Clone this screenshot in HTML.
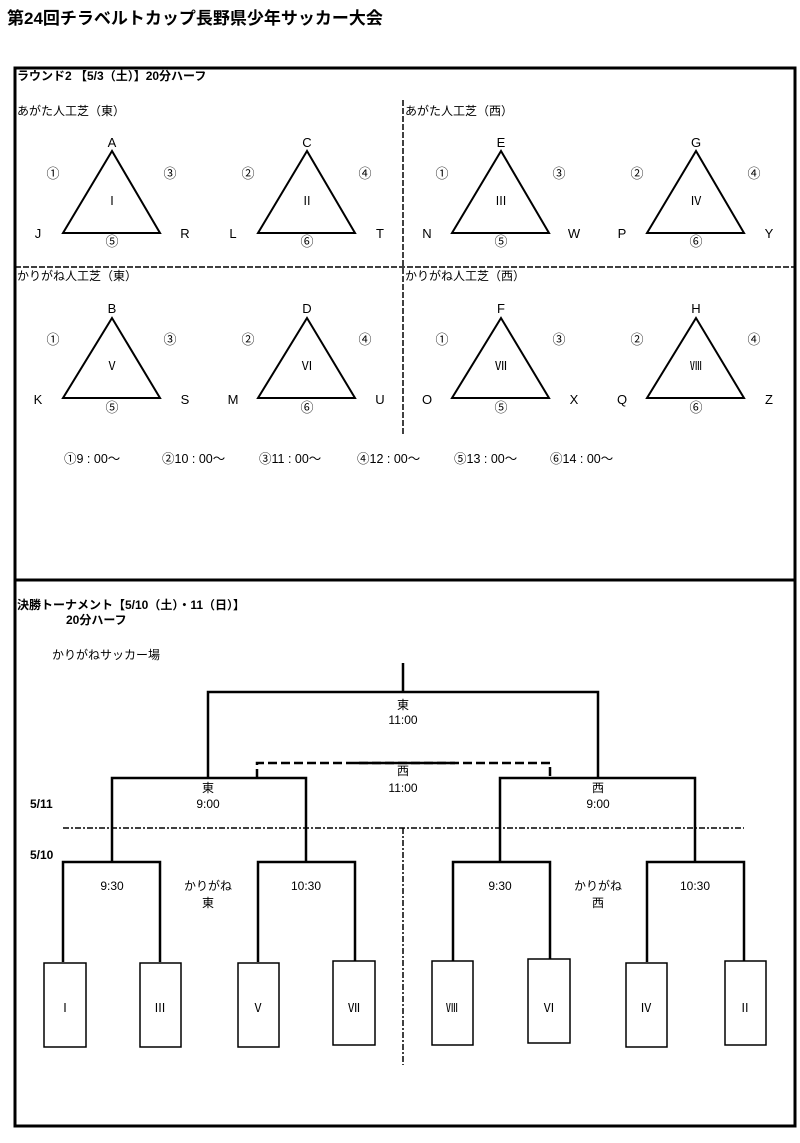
<!DOCTYPE html>
<html><head><meta charset="utf-8"><style>
html,body{margin:0;padding:0;background:#fff;}
svg{display:block;}
text{font-family:"Liberation Sans","Noto Sans CJK JP",sans-serif;fill:#000;}
.b{font-weight:bold;}
.r{font-family:"Liberation Serif","Noto Serif CJK SC",serif;}
.c{font-family:"Noto Sans CJK JP",sans-serif;}
</style></head><body>
<svg width="800" height="1143" viewBox="0 0 800 1143" xmlns="http://www.w3.org/2000/svg">
<text x="7" y="24" font-size="17" class="b">第24回チラベルトカップ長野県少年サッカー大会</text>
<rect x="15" y="68" width="780" height="1058" fill="none" stroke="#000" stroke-width="3"/>
<line x1="15" y1="580" x2="795" y2="580" stroke="#000" stroke-width="3"/>
<text x="17" y="80" font-size="12" class="b">ラウンド2 【5/3（土）】20分ハーフ</text>
<line x1="403" y1="100" x2="403" y2="435" stroke="#000" stroke-width="1.5" stroke-dasharray="6,2"/>
<line x1="15" y1="267" x2="795" y2="267" stroke="#000" stroke-width="1.5" stroke-dasharray="6,2"/>
<g font-size="12">
<text x="17" y="115">あがた人工芝（東）</text>
<text x="405" y="115">あがた人工芝（西）</text>
<text x="17" y="280">かりがね人工芝（東）</text>
<text x="405" y="280">かりがね人工芝（西）</text>
</g>
<g fill="none" stroke="#000" stroke-width="2">
<path d="M112 151 L63 233 L160 233 Z"/><path d="M307 151 L258 233 L355 233 Z"/>
<path d="M501 151 L452 233 L549 233 Z"/><path d="M696 151 L647 233 L744 233 Z"/>
<path d="M112 318 L63 398 L160 398 Z"/><path d="M307 318 L258 398 L355 398 Z"/>
<path d="M501 318 L452 398 L549 398 Z"/><path d="M696 318 L647 398 L744 398 Z"/>
</g>
<g font-size="13" text-anchor="middle">
<text x="112" y="147">A</text><text x="38" y="238">J</text><text x="185" y="238">R</text>
<text x="307" y="147">C</text><text x="233" y="238">L</text><text x="380" y="238">T</text>
<text x="501" y="147">E</text><text x="427" y="238">N</text><text x="574" y="238">W</text>
<text x="696" y="147">G</text><text x="622" y="238">P</text><text x="769" y="238">Y</text>
<text x="112" y="313">B</text><text x="38" y="404">K</text><text x="185" y="404">S</text>
<text x="307" y="313">D</text><text x="233" y="404">M</text><text x="380" y="404">U</text>
<text x="501" y="313">F</text><text x="427" y="404">O</text><text x="574" y="404">X</text>
<text x="696" y="313">H</text><text x="622" y="404">Q</text><text x="769" y="404">Z</text>
</g>
<g font-size="13" text-anchor="middle" class="c">
<text x="53" y="178">①</text><text x="170" y="178">③</text><text x="112" y="246">⑤</text>
<text x="248" y="178">②</text><text x="365" y="178">④</text><text x="307" y="246">⑥</text>
<text x="442" y="178">①</text><text x="559" y="178">③</text><text x="501" y="246">⑤</text>
<text x="637" y="178">②</text><text x="754" y="178">④</text><text x="696" y="246">⑥</text>
<text x="53" y="344">①</text><text x="170" y="344">③</text><text x="112" y="412">⑤</text>
<text x="248" y="344">②</text><text x="365" y="344">④</text><text x="307" y="412">⑥</text>
<text x="442" y="344">①</text><text x="559" y="344">③</text><text x="501" y="412">⑤</text>
<text x="637" y="344">②</text><text x="754" y="344">④</text><text x="696" y="412">⑥</text>
</g>
<g font-size="12" text-anchor="middle" class="r">
<text x="112" y="205">Ⅰ</text><text x="307" y="205">Ⅱ</text><text x="501" y="205">Ⅲ</text><text x="696" y="205">Ⅳ</text>
<text x="112" y="370">Ⅴ</text><text x="307" y="370">Ⅵ</text><text x="501" y="370">Ⅶ</text><text x="696" y="370">Ⅷ</text>
</g>
<g font-size="12.5">
<text x="64" y="463">①9 : 00～</text><text x="162" y="463">②10 : 00～</text><text x="259" y="463">③11 : 00～</text>
<text x="357" y="463">④12 : 00～</text><text x="454" y="463">⑤13 : 00～</text><text x="550" y="463">⑥14 : 00～</text>
</g>
<text x="17" y="609" font-size="12" class="b">決勝トーナメント【5/10（土）・11（日）】</text>
<text x="66" y="624" font-size="12" class="b">20分ハーフ</text>
<text x="52" y="659" font-size="12">かりがねサッカー場</text>
<g fill="none" stroke="#000" stroke-width="2.5">
<path d="M403 663 V692 M208 778 V692 H598 V778"/>
<path d="M112 862 V778 H306 V862 M500 862 V778 H695 V862"/>
<path d="M63 962 V862 H160 V962 M258 962 V862 H355 V962 M453 962 V862 H550 V962 M647 962 V862 H744 V962"/>
<path d="M355 763 H455"/>
</g>
<path d="M257 778 V763 H550 V778" fill="none" stroke="#000" stroke-width="2.5" stroke-dasharray="9,4"/>
<line x1="63" y1="828" x2="744" y2="828" stroke="#000" stroke-width="1.5" stroke-dasharray="6,2,2,2"/>
<line x1="403" y1="828" x2="403" y2="1065" stroke="#000" stroke-width="1.5" stroke-dasharray="6,2,2,2"/>
<g fill="#fff" stroke="#000" stroke-width="1.5">
<rect x="44" y="963" width="42" height="84"/><rect x="140" y="963" width="41" height="84"/>
<rect x="238" y="963" width="41" height="84"/><rect x="333" y="961" width="42" height="84"/>
<rect x="432" y="961" width="41" height="84"/><rect x="528" y="959" width="42" height="84"/>
<rect x="626" y="963" width="41" height="84"/><rect x="725" y="961" width="41" height="84"/>
</g>
<g font-size="12" text-anchor="middle" class="r">
<text x="65" y="1012">Ⅰ</text><text x="160" y="1012">Ⅲ</text><text x="258" y="1012">Ⅴ</text><text x="354" y="1012">Ⅶ</text>
<text x="452" y="1012">Ⅷ</text><text x="549" y="1012">Ⅵ</text><text x="646" y="1012">Ⅳ</text><text x="745" y="1012">Ⅱ</text>
</g>
<g font-size="12" text-anchor="middle">
<text x="403" y="709">東</text><text x="403" y="724">11:00</text>
<text x="403" y="775">西</text><text x="403" y="792">11:00</text>
<text x="208" y="792">東</text><text x="208" y="808">9:00</text>
<text x="598" y="792">西</text><text x="598" y="808">9:00</text>
<text x="112" y="890">9:30</text><text x="306" y="890">10:30</text>
<text x="500" y="890">9:30</text><text x="695" y="890">10:30</text>
<text x="208" y="890">かりがね</text><text x="208" y="907">東</text>
<text x="598" y="890">かりがね</text><text x="598" y="907">西</text>
</g>
<text x="30" y="808" font-size="12" class="b">5/11</text>
<text x="30" y="859" font-size="12" class="b">5/10</text>
</svg>
</body></html>
